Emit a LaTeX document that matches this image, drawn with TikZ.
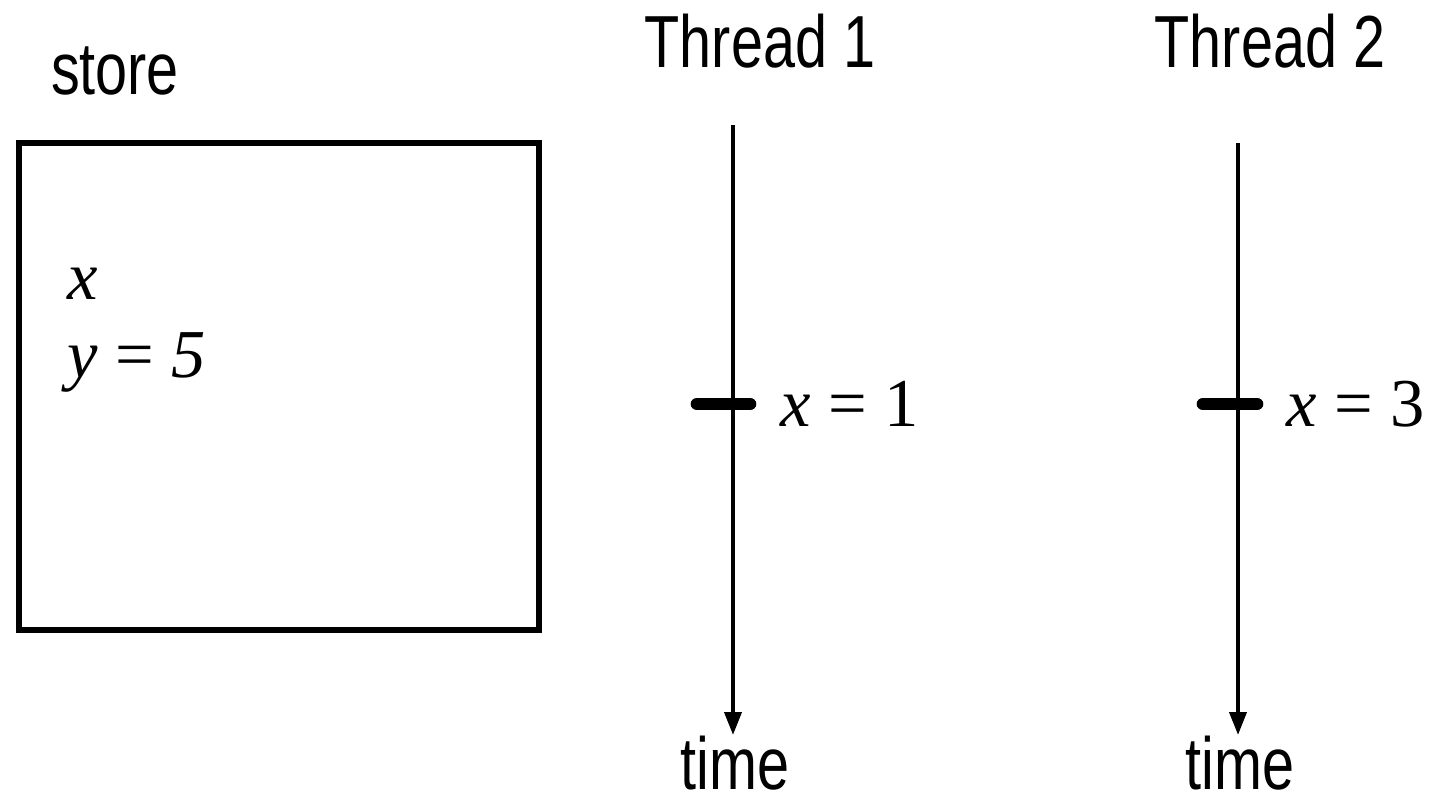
\documentclass[tikz,border=0pt]{standalone}
\usepackage{fontspec}
\setmainfont{Liberation Serif}
\newfontfamily\narrowsf[FakeStretch=0.78]{Liberation Sans}
\usetikzlibrary{arrows.meta, positioning}

\begin{document}
\begin{tikzpicture}[
  label/.style={font=\narrowsf\fontsize{21}{25}\selectfont, inner sep=0pt},
  eqn/.style={font=\fontsize{19.5}{23}\selectfont, inner sep=0pt, anchor=base west},
  storebox/.style={rectangle, draw, line width=1.5pt, minimum width=5.2cm, minimum height=4.87cm, inner sep=0pt},
  timeline/.style={-{Triangle[length=6.5pt, width=4.8pt]}, line width=1.1pt},
  tick/.style={line width=3.6pt, line cap=round}
]
  \useasboundingbox (0,0) rectangle (14.31,8);

  % store
  \node[storebox] (store) at (2.79,4.135) {};
  \node[label, anchor=base] (storelbl) at (1.15,7.05) {store};
  \node[eqn] (xvar) at (0.67,5.0) {\itshape x};
  \node[eqn] (yvar) at (0.67,4.22) {\itshape y {\upshape =} 5};

  % thread 1
  \node[label, anchor=base] (thread1) at (7.6,7.32) {Thread 1};
  \coordinate (t1top) at (7.33,6.75);
  \coordinate (t1end) at (7.33,0.65);
  \coordinate (e1) at (7.33,3.96);
  \draw[timeline] (t1top) -- (t1end);
  \draw[tick] ([xshift=-0.36cm]e1) -- ([xshift=0.17cm]e1);
  \node[eqn, anchor=west] (w1) at (7.8,3.96) {\itshape x {\upshape = 1}};
  \node[label, anchor=base] (time1) at (7.35,0.1) {time};

  % thread 2
  \node[label, anchor=base] (thread2) at (12.7,7.32) {Thread 2};
  \coordinate (t2top) at (12.38,6.57);
  \coordinate (t2end) at (12.38,0.65);
  \coordinate (e2) at (12.38,3.96);
  \draw[timeline] (t2top) -- (t2end);
  \draw[tick] ([xshift=-0.35cm]e2) -- ([xshift=0.19cm]e2);
  \node[eqn, anchor=west] (w2) at (12.86,3.96) {\itshape x {\upshape = 3}};
  \node[label, anchor=base] (time2) at (12.4,0.1) {time};
\end{tikzpicture}
\end{document}
